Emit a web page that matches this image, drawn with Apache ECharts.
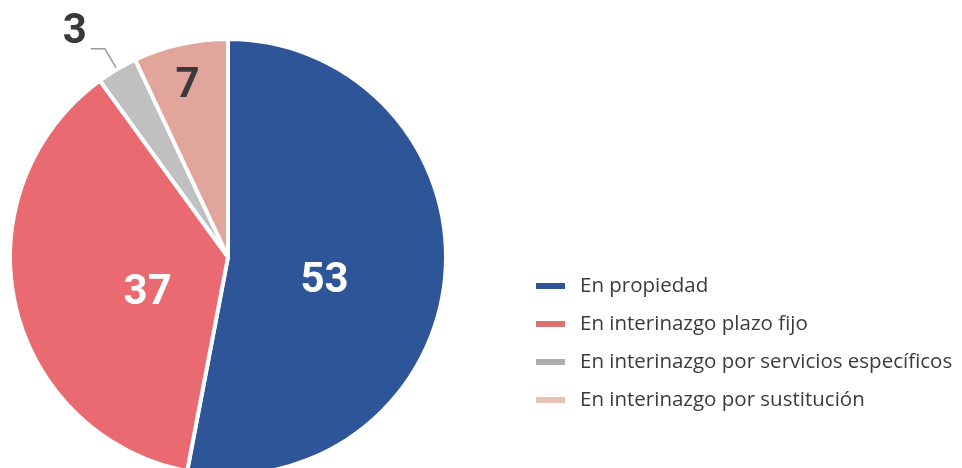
<!DOCTYPE html>
<html>
<head>
<meta charset="utf-8">
<script src="https://cdn.jsdelivr.net/npm/echarts@6/dist/echarts.min.js"></script>
<style>
  html, body { margin: 0; padding: 0; background: #fff; }
  #chart { width: 962px; height: 468px; }
</style>
</head>
<body>
<div id="chart"></div>
<script>
// --- datos ---
const categories = [
    'En propiedad',
    'En interinazgo plazo fijo',
    'En interinazgo por servicios específicos',
    'En interinazgo por sustitución'
];
const values = [53, 37, 3, 7];

// colores (sector / leyenda)
const sliceColors = ['#2E5597', '#E96B71', '#C0C0C0', '#E2A59B'];
const legendColors = ['#2F5597', '#DB7470', '#ADADAD', '#E8C2B2'];
const labelColors = ['#fff', '#fff', '#3a3a3a', '#3a3a3a'];

// pequeños ajustes de posición de las etiquetas internas
const labelNudge = [[-15, 14], [29, 12], [0, 0], [-16, -61]];

const numFont = "'Roboto', sans-serif";

const chart = echarts.init(document.getElementById('chart'));

const pieData = categories.map((name, i) => {
    const item = {
        name: name,
        value: values[i],
        itemStyle: { color: sliceColors[i] },
        label: { color: labelColors[i] }
    };
    if (i === 2) {
        // el 3 va fuera, con línea guía; la línea vacía lo sube por encima
        item.label = {
            position: 'outside',
            distanceToLabelLine: 4,
            formatter: '{t|{c}}\n{s|}',
            rich: {
                t: { fontFamily: numFont, fontWeight: 'bold', fontSize: 42, lineHeight: 40, color: labelColors[i] },
                s: { fontSize: 1, lineHeight: 32 }
            }
        };
        item.labelLine = { show: true, length: 24, length2: 14, lineStyle: { color: '#9a9a9a', width: 1.5 } };
    }
    return item;
});

chart.setOption({
    animation: false,
    backgroundColor: '#fff',
    legend: {
        orient: 'vertical',
        left: 529,
        top: 270,
        icon: 'rect',
        itemWidth: 31,
        itemHeight: 8,
        itemGap: 16,
        selectedMode: false,
        data: categories.map((c, i) => ({ name: c, itemStyle: { color: legendColors[i] } })),
        textStyle: {
            fontFamily: 'Open Sans',
            fontSize: 20.5,
            lineHeight: 22,
            color: '#3b3b3b',
            padding: [0, 0, 0, 9]
        }
    },
    series: [{
        type: 'pie',
        center: [228, 257],
        radius: 218,
        startAngle: 90,
        clockwise: true,
        avoidLabelOverlap: false,
        itemStyle: { borderColor: '#fff', borderWidth: 4 },
        label: {
            show: true,
            position: 'inside',
            formatter: '{c}',
            fontFamily: numFont,
            fontWeight: 'bold',
            fontSize: 42
        },
        labelLine: { show: false },
        labelLayout: function (p) {
            const n = labelNudge[p.dataIndex];
            return { dx: n[0], dy: n[1] };
        },
        emphasis: { disabled: true },
        data: pieData
    }]
});
</script>
</body>
</html>
